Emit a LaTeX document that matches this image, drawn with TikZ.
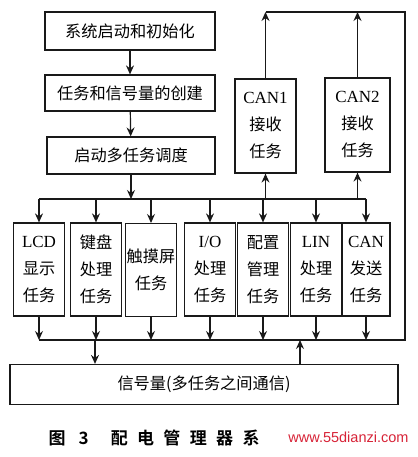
\documentclass[tikz,border=0pt]{standalone}
\usepackage{fontspec}
\setmainfont{Liberation Serif}
\newfontfamily\cjk{Noto Sans CJK SC}
\newfontfamily\cjkcap[LetterSpace=55]{Noto Sans CJK SC Bold}
\usepackage{xcolor}
\usetikzlibrary{arrows.meta,positioning,calc}
\definecolor{inkblack}{RGB}{25,25,25}
\definecolor{markred}{RGB}{215,35,55}
\tikzset{
  flowbox/.style={rectangle, draw=inkblack, line width=1.2pt, fill=white, inner sep=0pt,
    font=\fontsize{16.2}{27}\selectfont\cjk, align=center},
  taskbox/.style={flowbox, minimum width=51pt, minimum height=93pt},
  canbox/.style={flowbox, minimum height=94pt},
  wire/.style={draw=inkblack, line width=1.2pt},
  arr/.style={wire, -{Stealth[length=9pt,width=8pt,inset=3pt]}}
}
\newcommand{\lat}[1]{{\fontspec{Liberation Serif}\fontsize{17}{27}\selectfont#1}}

\begin{document}
\begin{tikzpicture}[x=1pt,y=-1pt]
  \useasboundingbox (0,0) rectangle (417,457);

  % Start-up chain
  \node[flowbox, minimum width=170pt, minimum height=38pt] (init) at (130,31) {系统启动和初始化};
  \node[flowbox, minimum width=170pt, minimum height=36pt] (create) at (130,93) {任务和信号量的创建};
  \node[flowbox, minimum width=168pt, minimum height=37pt] (sched) at (131,155.5) {启动多任务调度};
  \draw[arr] (init) -- (create);
  \draw[arr] (create) -- (sched);

  % CAN receive tasks
  \node[canbox, minimum width=61pt] (canrx1) at (265.5,126) {\lat{CAN1}\\接收\\任务};
  \node[canbox, minimum width=65pt] (canrx2) at (357.5,125) {\lat{CAN2}\\接收\\任务};

  % Task row
  \node[taskbox] (lcd) at (39,269.5) {\lat{LCD}\\显示\\任务};
  \node[taskbox] (key) at (96,269.5) {键盘\\处理\\任务};
  \node[taskbox, anchor=north] (touch) at (151,223) {触摸屏\\任务};
  \node[taskbox] (io) at (210,269.5) {\lat{I/O}\\处理\\任务};
  \node[taskbox] (cfg) at (263,269.5) {配置\\管理\\任务};
  \node[taskbox] (lin) at (316,269.5) {\lat{LIN}\\处理\\任务};
  \node[taskbox, minimum width=48pt] (cantx) at (366,269.5) {\lat{CAN}\\发送\\任务};

  % Semaphore box
  \node[flowbox, minimum width=388pt, minimum height=40pt] (sem) at (204,384.5) {信号量(多任务之间通信)};

  % Buses
  \coordinate (upbus) at (0,199);
  \coordinate (lowbus) at (0,340);
  \coordinate (topline) at (0,12);
  \coordinate (rside) at (405,0);
  \coordinate (semin) at (95,340);
  \coordinate (semout) at (300,340);
  \draw[arr] (sched.south) -- (sched.south |- upbus);
  \draw[wire] (lcd.north |- upbus) -- (cantx.north |- upbus);
  \foreach \t in {lcd,key,touch,io,cfg,lin,cantx}{
    \draw[arr] (\t.north |- upbus) -- (\t.north);
    \draw[arr] (\t.south) -- (\t.south |- lowbus);
  }
  \draw[arr] (canrx1.south |- upbus) -- (canrx1.south);
  \draw[arr] (canrx2.south |- upbus) -- (canrx2.south);
  \draw[arr] (canrx1.north) -- (canrx1.north |- topline);
  \draw[arr] (canrx2.north) -- (canrx2.north |- topline);
  \draw[wire] (canrx1.north |- topline) -- (rside |- topline) -- (rside |- lowbus) -- (lcd.south |- lowbus);
  \draw[arr] (semin) -- (semin |- sem.north);
  \draw[arr] (semout |- sem.north) -- (semout);

  % Caption
  \node[font=\fontsize{17}{20}\selectfont\cjkcap, anchor=west] (cap) at (45,438) {图 3\hspace{22pt}配电管理器系};
  \node[font=\fontsize{14.5}{16}\selectfont\fontspec{Liberation Sans}, text=markred, anchor=east] (mark) at (412,437) {www.55dianzi.com};
\end{tikzpicture}
\end{document}
